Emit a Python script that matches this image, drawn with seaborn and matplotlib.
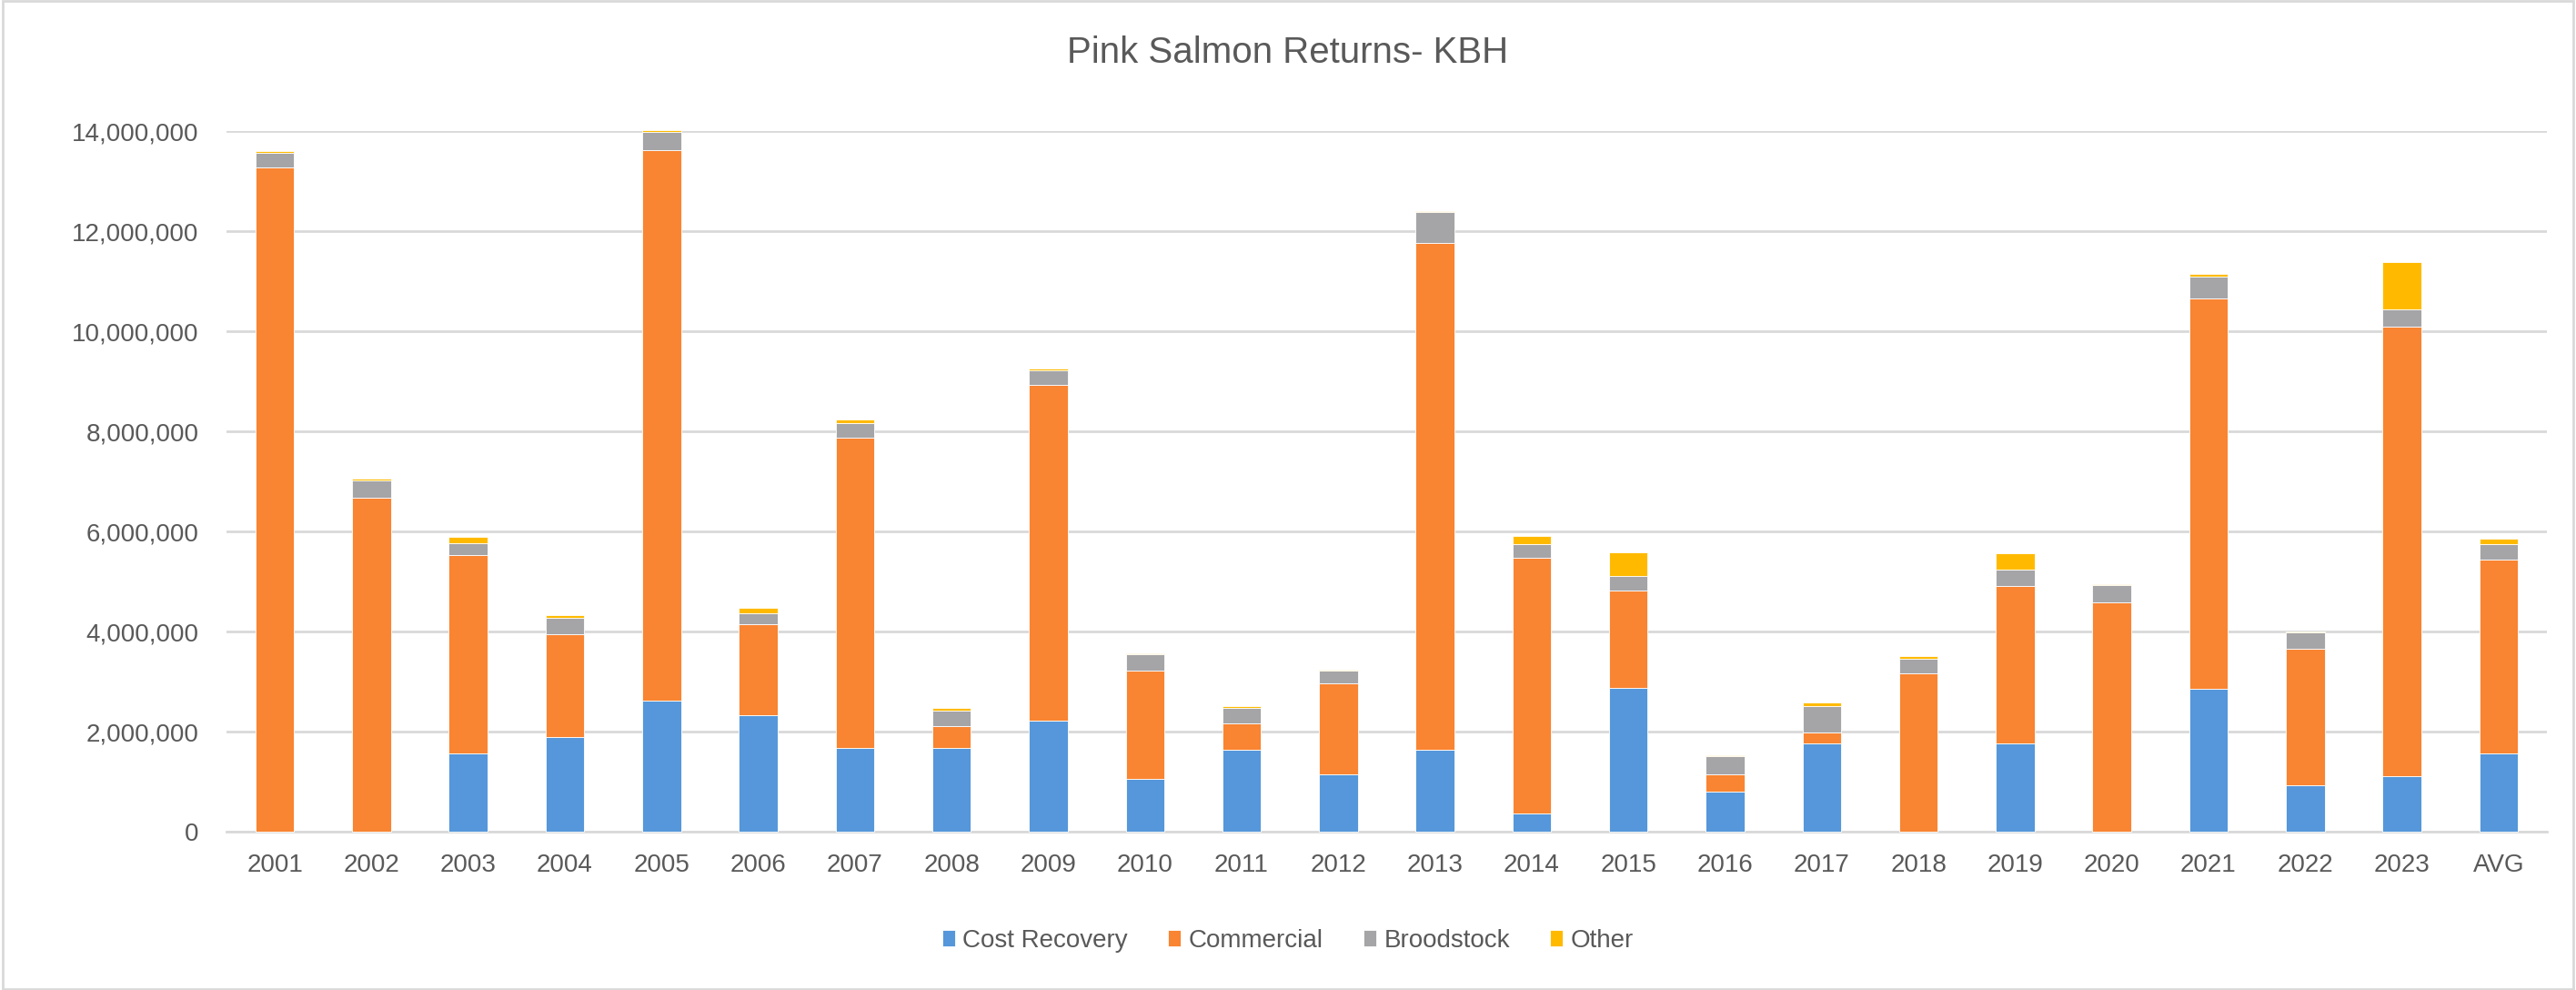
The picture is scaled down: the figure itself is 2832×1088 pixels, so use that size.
import numpy as np
import pandas as pd
import seaborn as sns
import matplotlib.pyplot as plt
from matplotlib.patches import Rectangle
from matplotlib.ticker import FuncFormatter


years = ['2001', '2002', '2003', '2004', '2005', '2006', '2007', '2008',
         '2009', '2010', '2011', '2012', '2013', '2014', '2015', '2016',
         '2017', '2018', '2019', '2020', '2021', '2022', '2023', 'AVG']

cost_recovery = [0, 0, 1.57, 1.90, 2.62, 2.32, 1.67, 1.68,
                 2.22, 1.05, 1.64, 1.15, 1.63, 0.36, 2.88, 0.80,
                 1.76, 0, 1.76, 0, 2.86, 0.92, 1.11, 1.57]
commercial = [13.27, 6.68, 3.95, 2.05, 10.99, 1.83, 6.20, 0.43,
              6.71, 2.16, 0.53, 1.81, 10.13, 5.11, 1.94, 0.35,
              0.22, 3.17, 3.15, 4.59, 7.79, 2.74, 8.98, 3.86]
broodstock = [0.29, 0.33, 0.25, 0.32, 0.38, 0.22, 0.30, 0.30,
              0.28, 0.33, 0.31, 0.26, 0.63, 0.28, 0.29, 0.36,
              0.53, 0.29, 0.33, 0.34, 0.44, 0.32, 0.34, 0.31]
other = [0.04, 0.05, 0.12, 0.06, 0.03, 0.10, 0.06, 0.06,
         0.04, 0.02, 0.03, 0.01, 0.01, 0.16, 0.48, 0.02,
         0.07, 0.05, 0.32, 0.02, 0.05, 0.02, 0.95, 0.11]

series_names = ['Cost Recovery', 'Commercial', 'Broodstock', 'Other']
series_colors = ['#5597DA', '#F98431', '#A5A4A6', '#FFBA00']

sns.set_theme(style='white')
plt.rcParams['font.family'] = ['Liberation Sans Narrow', 'Liberation Sans', 'DejaVu Sans']

fig, ax = plt.subplots(figsize=(28.32, 10.88), dpi=100)
fig.subplots_adjust(left=249/2832, right=2800/2832, bottom=1-914/1088, top=1-144/1088)

layers = [cost_recovery, commercial, broodstock, other]
bottom = np.zeros(len(years))
for name, vals, col in zip(series_names, layers, series_colors):
    v = np.array(vals) * 1e6
    sns.barplot(x=years, y=v, bottom=bottom, color=col, saturation=1,
                width=0.4, label=name, ax=ax, edgecolor='white',
                linewidth=0.6, zorder=3)
    bottom = bottom + v

for p in ax.patches:
    p.set_clip_on(False)

ax.set_ylim(0, 14e6)
ax.set_yticks(np.arange(0, 14e6 + 1, 2e6))
ax.yaxis.set_major_formatter(FuncFormatter(lambda v, _: f'{int(v):,}'))
ax.grid(axis='y', color='#D9D9D9', linewidth=2, zorder=0)
ax.set_axisbelow(True)
for s in ['top', 'right', 'left']:
    ax.spines[s].set_visible(False)
ax.spines['bottom'].set_color('#D9D9D9')
ax.spines['bottom'].set_linewidth(2)
ax.tick_params(axis='both', length=0, labelsize=20, colors='#595959')
ax.tick_params(axis='x', pad=17)
ax.tick_params(axis='y', pad=22)
ax.set_xlabel('')
ax.set_ylabel('')

fig.text(0.5, 1 - 58/1088, 'Pink Salmon Returns- KBH', ha='center', va='center',
         fontsize=29, color='#595959')

handles, labels = ax.get_legend_handles_labels()
if ax.legend_ is not None:
    ax.legend_.remove()
fig.legend(handles, labels, loc='center', bbox_to_anchor=(0.5, 1 - 1034/1088),
           ncol=4, frameon=False, fontsize=20, labelcolor='#595959',
           handlelength=0.5, handleheight=0.6, handletextpad=0.3, columnspacing=1.6)

fig.patches.append(Rectangle((0.001, 0.001), 0.998, 0.998, transform=fig.transFigure,
                             fill=False, edgecolor='#D9D9D9', linewidth=2))

fig.savefig('out.png', dpi=100)
